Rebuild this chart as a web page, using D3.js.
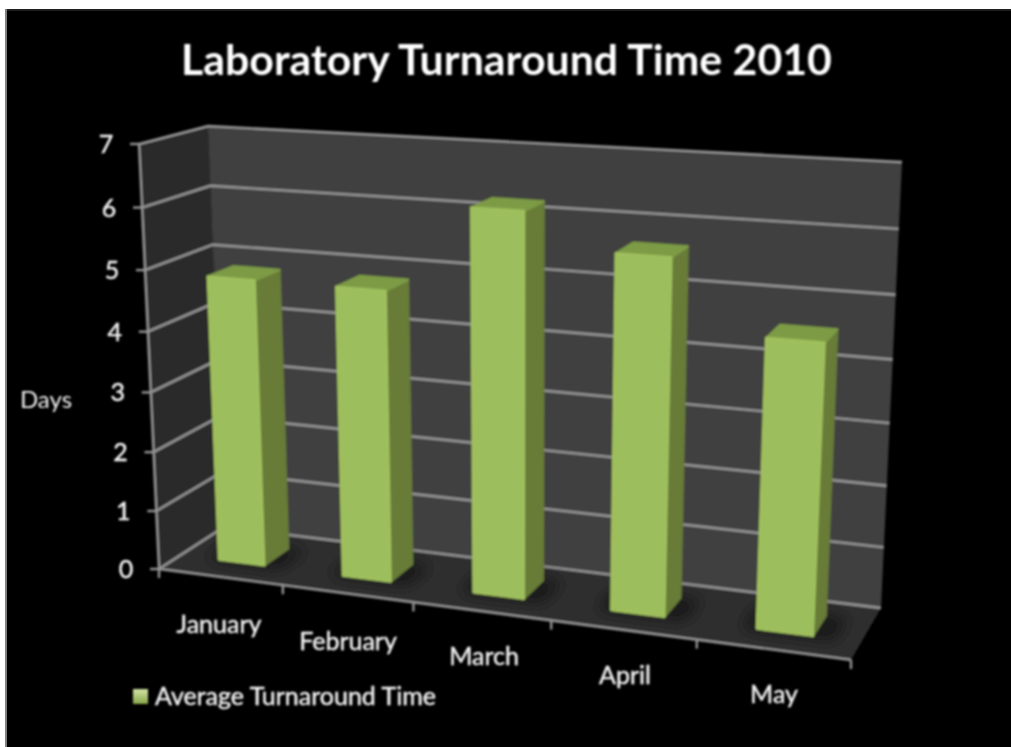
<!DOCTYPE html>
<html><head><meta charset="utf-8">
<script src="https://cdn.jsdelivr.net/npm/d3@7"></script>
<style>html,body{margin:0;padding:0;background:#fff}svg{display:block}text{font-family:Lato,sans-serif;fill:#f2f2f2}.semi{stroke:#f2f2f2;stroke-width:0.45px}</style>
</head><body><svg id="c" width="1011" height="747"></svg>
<script>
const categories = ["January","February","March","April","May"];
const values = [4.8,4.8,6.2,5.65,4.55];
const yTicks = [0,1,2,3,4,5,6,7];
const title = "Laboratory Turnaround Time 2010";
const seriesName = "Average Turnaround Time";
const yLabel = "Days";
const catLabelPos = [[219,633],[348,650],[484,665],[625,684],[774,703]];

const svg = d3.select("#c");
const defs = svg.append("defs");
defs.append("filter").attr("id","soft").attr("x","-5%").attr("y","-5%").attr("width","110%").attr("height","110%")
  .append("feGaussianBlur").attr("stdDeviation",0.85);
defs.append("filter").attr("id","shadow").attr("x","-50%").attr("y","-50%").attr("width","200%").attr("height","200%")
  .append("feGaussianBlur").attr("stdDeviation",8);
const lg = defs.append("linearGradient").attr("id","leg").attr("x1",0).attr("y1",0).attr("x2",0).attr("y2",1);
lg.append("stop").attr("offset","0").attr("stop-color","#d5e6a6");
lg.append("stop").attr("offset","1").attr("stop-color","#86a548");

// 3D box corners on screen: [u,v,w] -> pixel
const C = {
 "000":[159,569],"100":[851,660],"010":[224,527],"110":[881,608],
 "001":[139,144],"101":[873,187],"011":[208,126],"111":[902,162]
};
const wu=-0.128, wv=0.06, ww=-0.052;
function project(u,v,w){
  let sx=0,sy=0,sw=0;
  for(const a of [0,1]) for(const b of [0,1]) for(const c of [0,1]){
    const B=(a?u:1-u)*(b?v:1-v)*(c?w:1-w);
    const W=B*(1+wu*a+wv*b+ww*c);
    const p=C[""+a+b+c];
    sx+=W*p[0]; sy+=W*p[1]; sw+=W;
  }
  return [sx/sw,sy/sw];
}
const x = d3.scaleBand().domain(categories).range([0,1]).paddingInner(0.63).paddingOuter(0.315);
const y = d3.scaleLinear().domain([0,7]).range([0,1]);
const depth = d3.scaleLinear().domain([0,1]).range([0.33,0.72]);
const tickCat = d3.scaleLinear().domain([0,categories.length]).range([0,1]);
const poly = pts => d3.line()(pts)+"Z";

svg.append("rect").attr("x",5).attr("y",9).attr("width",1006).attr("height",738).attr("fill","#000");
svg.append("rect").attr("x",5).attr("y",9).attr("width",2).attr("height",738).attr("fill","#808080");
svg.append("rect").attr("x",7).attr("y",9).attr("width",1004).attr("height",2).attr("fill","#1e1e1e");

const g = svg.append("g").attr("filter","url(#soft)");
// walls and floor
g.append("path").attr("d",poly([project(0,0,0),project(0,1,0),project(0,1,1),project(0,0,1)])).attr("fill","#292929");
g.append("path").attr("d",poly([project(0,1,0),project(1,1,0),project(1,1,1),project(0,1,1)])).attr("fill","#414141");
g.append("path").attr("d",poly([project(0,0,0),project(1,0,0),project(1,1,0),project(0,1,0)])).attr("fill","#2f2f2f");

// gridlines
yTicks.forEach(t=>{
  const w=y(t);
  g.append("path").attr("d",d3.line()([project(0,0,w),project(0,1,w),project(1,1,w)]))
    .attr("fill","none").attr("stroke","#969696").attr("stroke-width",2.4);
  const p=project(0,0,w);
  g.append("line").attr("x1",p[0]-9).attr("y1",p[1]).attr("x2",p[0]).attr("y2",p[1]).attr("stroke","#969696").attr("stroke-width",2.4);
  g.append("text").attr("class","semi").attr("x",p[0]-33).attr("y",p[1]).attr("dy","0.36em").attr("text-anchor","middle")
    .attr("font-size",25).text(t);
});
// axes
g.append("path").attr("d",d3.line()([project(0,0,0),project(0,0,1)])).attr("stroke","#969696").attr("stroke-width",2.4);
g.append("path").attr("d",d3.line()([project(0,0,0),project(1,0,0)])).attr("stroke","#969696").attr("stroke-width",2.4);
d3.range(categories.length+1).forEach(i=>{
  const p=project(tickCat(i),0,0);
  g.append("line").attr("x1",p[0]).attr("y1",p[1]).attr("x2",p[0]).attr("y2",p[1]+9).attr("stroke","#969696").attr("stroke-width",2.4);
});

// bar shadows
categories.forEach(c=>{
  const u0=x(c),u1=u0+x.bandwidth();
  g.append("path").attr("filter","url(#shadow)").attr("fill","#000").attr("fill-opacity",0.5)
   .attr("d",poly([project(u0-0.02,depth(0)-0.04,0),project(u1+0.03,depth(0)-0.04,0),project(u1+0.03,depth(1)+0.03,0),project(u0-0.02,depth(1)+0.03,0)]));
});
// bars
categories.forEach((c,i)=>{
  const u0=x(c),u1=u0+x.bandwidth(),v0=depth(0),v1=depth(1),w=y(values[i]);
  const bg=g.append("g").attr("stroke-linejoin","round");
  const side=[project(u1,v0,0),project(u1,v1,0),project(u1,v1,w),project(u1,v0,w)];
  const top=[project(u0,v0,w),project(u1,v0,w),project(u1,v1,w),project(u0,v1,w)];
  const front=[project(u0,v0,0),project(u1,v0,0),project(u1,v0,w),project(u0,v0,w)];
  bg.append("path").attr("d",poly(side)).attr("fill","#677c39").attr("stroke","#677c39").attr("stroke-width",2.5);
  bg.append("path").attr("d",poly(top)).attr("fill","#7d9b45").attr("stroke","#7d9b45").attr("stroke-width",2.5);
  bg.append("path").attr("d",poly(front)).attr("fill","#9dbe5b").attr("stroke","#a0c15e").attr("stroke-width",2.5);
});

// texts
g.append("text").attr("x",506.5).attr("y",75).attr("text-anchor","middle").attr("font-size",42.8).attr("font-weight",700).style("fill","#fff").text(title);
g.append("text").attr("x",46).attr("y",408).attr("text-anchor","middle").attr("font-size",24).text(yLabel);
categories.forEach((c,i)=>{
  g.append("text").attr("class","semi").attr("x",catLabelPos[i][0]).attr("y",catLabelPos[i][1]).attr("text-anchor","middle").attr("font-size",25).text(c);
});
g.append("rect").attr("x",133).attr("y",689).attr("width",15).attr("height",15).attr("fill","url(#leg)");
g.append("text").attr("class","semi").attr("x",155).attr("y",705).attr("font-size",25).text(seriesName);
</script></body></html>
